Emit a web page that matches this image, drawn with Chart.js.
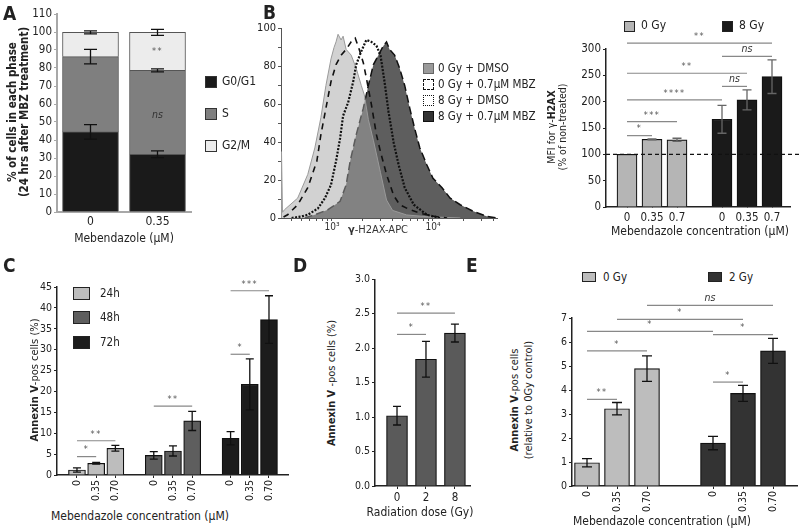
<!DOCTYPE html>
<html>
<head>
<meta charset="utf-8">
<script src="https://cdn.jsdelivr.net/npm/chart.js@4.4.1/dist/chart.umd.min.js"></script>
<style>
body { margin: 0; width: 800px; height: 531px; position: relative; overflow: hidden; background: #fff;
       font-family: 'DejaVu Sans Condensed', 'Liberation Sans Narrow', 'Open Sans', sans-serif; color: #222; }
canvas { position: absolute; }
.lbl { position: absolute; white-space: nowrap; line-height: 1.1; }
.c { transform: translate(-50%, -50%); text-align: center; }
.l { transform: translate(0, -50%); }
.r { transform: translate(-50%, -50%) rotate(-90deg); text-align: center; }
.sw { position: absolute; box-sizing: border-box; }
.letter { position: absolute; font-weight: bold; font-size: 19px; line-height: 19px; }
</style>
</head>
<body>
<canvas id="chA"></canvas>
<canvas id="chHist"></canvas>
<canvas id="chB"></canvas>
<canvas id="chC"></canvas>
<canvas id="chD"></canvas>
<canvas id="chE"></canvas>
<script>
// ---------- data ----------
// A: cell cycle phases, 24 h after MBZ
const doseA = ['0', '0.35'];
const phases = ['G0/G1', 'S', 'G2/M'];
const g0g1 = [44.5, 32.1];
const sPhase = [41.8, 46.6];
const g2m = [13.5, 21.1];
const g0g1Err = [4, 1.9];
const sErr = [4, 0.8];
const g2mErr = [0.8, 1.7];

// B (left): flow histograms, [log10 intensity, % of max]
const histNames = ['0 Gy +  DMSO', '0 Gy + 0.7\u00b5M MBZ', '8 Gy + DMSO', '8 Gy + 0.7\u00b5M MBZ'];
const dmso0 = [[2.495,0],[2.50,35],[2.51,3],[2.53,4.4],[2.66,10.5],[2.76,23],[2.83,37],[2.89,53],[2.94,70],[2.99,84],[3.02,90],[3.04,93],[3.06,97],[3.09,94],[3.11,96],[3.14,89],[3.19,86],[3.24,79],[3.29,70],[3.32,65],[3.36,52],[3.41,41],[3.48,24],[3.54,9.5],[3.60,4],[3.74,1.6],[3.94,0.7],[4.27,0]];
const mbz0 = [[2.52,0.5],[2.56,1.7],[2.66,7],[2.76,16],[2.85,30],[2.89,44],[2.94,58],[2.99,72],[3.04,81],[3.09,86],[3.14,89],[3.19,93],[3.23,95],[3.27,89],[3.31,82],[3.34,74],[3.39,60],[3.44,44],[3.48,35],[3.54,23],[3.61,12],[3.67,7],[3.77,4.4],[3.87,2.6],[4.00,0.9],[4.14,0]];
const dmso8 = [[2.60,0],[2.70,0.8],[2.76,1.7],[2.86,5],[2.93,10.5],[2.99,17.5],[3.04,30],[3.08,42],[3.11,54],[3.16,61],[3.21,72],[3.24,81],[3.29,88],[3.34,94],[3.39,93],[3.44,91],[3.48,86],[3.52,72],[3.56,56],[3.61,40],[3.66,28],[3.72,16],[3.81,7],[3.94,1.7],[4.07,0]];
const mbz8 = [[2.73,0],[2.83,1.7],[2.96,4.4],[3.08,8.8],[3.14,17.5],[3.18,30],[3.24,44],[3.31,58],[3.36,70],[3.41,81],[3.46,86],[3.49,89],[3.51,91],[3.54,93],[3.57,89],[3.62,86],[3.67,79],[3.72,70],[3.77,58],[3.82,47],[3.87,37],[3.94,28],[4.00,21],[4.09,16],[4.17,10.5],[4.27,7],[4.40,3.5],[4.53,0.9],[4.63,0]];

// B (right): MFI for gamma-H2AX
const concB = ['0', '0.35', '0.7'];
const gyB = ['0 Gy', '8 Gy'];
const mfi0 = [100, 128.5, 127.5];
const mfi8 = [166.5, 203.5, 247.5];
const mfi0Err = [0, 1, 3];
const mfi8Err = [26.5, 19, 32];
// [group a, bar a, group b, bar b, height, label]
const sigB = [[0,0,0,1,135.5,'*'],[0,0,0,2,162,'***'],[0,0,1,0,203.5,'****'],[0,0,1,1,254,'**'],
              [1,0,1,1,229,'ns'],[1,0,1,2,286,'ns'],[0,0,1,2,311,'**']];

// C: annexin V by time
const concC = ['0', '0.35', '0.70'];
const hours = ['24h', '48h', '72h'];
const ann24 = [1.2, 2.8, 6.4];
const ann48 = [4.7, 5.75, 12.95];
const ann72 = [8.8, 21.7, 37.2];
const ann24Err = [0.5, 0.2, 0.7];
const ann48Err = [0.9, 1.2, 2.3];
const ann72Err = [1.6, 6.1, 5.7];
const sigC = [[0,0,0,1,4.4,'*'],[0,0,0,2,8.2,'**'],[1,0,1,2,16.5,'**'],[2,0,2,1,28.9,'*'],[2,0,2,2,44.1,'***']];

// D: annexin V by radiation dose
const doseD = ['0', '2', '8'];
const annD = [1.02, 1.84, 2.22];
const annDErr = [0.135, 0.26, 0.13];
const sigD = [[0,0,0,1,2.2,'*'],[0,0,0,2,2.51,'**']];

// E: annexin V relative to 0 Gy control
const concE = ['0', '0.35', '0.70'];
const gyE = ['0 Gy', '2 Gy'];
const rel0 = [0.97, 3.22, 4.89];
const rel2 = [1.79, 3.86, 5.63];
const rel0Err = [0.17, 0.26, 0.53];
const rel2Err = [0.28, 0.33, 0.52];
const sigE = [[0,0,0,1,3.61,'**'],[0,0,0,2,5.63,'*'],[1,0,1,1,4.33,'*'],[0,0,1,0,6.44,'*'],
              [1,0,1,2,6.31,'*'],[0,1,1,1,6.94,'*'],[0,2,1,2,7.53,'ns']];

// ---------- helpers ----------
const FONT = "'DejaVu Sans Condensed', 'Liberation Sans Narrow', 'Open Sans', sans-serif";
Chart.defaults.font.family = FONT;
Chart.defaults.color = '#222';
Chart.defaults.animation = false;

// put canvas so that the chart area sits on area (page px); m = [left, top, right, bottom] room
function place(id, a, m) {
    const c = document.getElementById(id);
    c.style.left = (a.l - m[0]) + 'px';
    c.style.top = (a.t - m[1]) + 'px';
    c.width = a.r - a.l + m[0] + m[2];
    c.height = a.b - a.t + m[1] + m[3];
    return c;
}

function label(html, x, y, cls, css) {
    const d = document.createElement('div');
    d.className = 'lbl ' + cls;
    d.innerHTML = html;
    d.style.left = x + 'px';
    d.style.top = y + 'px';
    Object.assign(d.style, css || {});
    document.body.appendChild(d);
}

function swatch(x, y, w, h, css) {
    const d = document.createElement('div');
    d.className = 'sw';
    d.style.left = x + 'px';
    d.style.top = (y - h / 2) + 'px';
    d.style.width = w + 'px';
    d.style.height = h + 'px';
    Object.assign(d.style, css);
    document.body.appendChild(d);
}

// slot positions of bars: group g, bar i
function slots(nGroups, perGroup, step) {
    const out = [];
    for (let g = 0; g < nGroups; g++) {
        out.push([]);
        for (let i = 0; i < perGroup; i++) out[g].push(g * step + i);
    }
    return out;
}

function toSig(list, pos) {
    return list.map(s => ({ a: pos[s[0]][s[1]], b: pos[s[2]][s[3]], y: s[4], text: s[5] }));
}

const extras = {
    id: 'extras',
    afterDatasetsDraw(chart, args, opts) {
        const ctx = chart.ctx, xs = chart.scales.x, ys = chart.scales.y;
        ctx.save();
        if (opts.refLine !== undefined) {
            const y = ys.getPixelForValue(opts.refLine);
            ctx.setLineDash([4, 3]);
            ctx.strokeStyle = '#111';
            ctx.lineWidth = 1.3;
            ctx.beginPath();
            ctx.moveTo(chart.chartArea.left, y);
            ctx.lineTo(chart.width, y);
            ctx.stroke();
            ctx.setLineDash([]);
        }
        chart.data.datasets.forEach((ds, i) => {
            if (!ds.err) return;
            chart.getDatasetMeta(i).data.forEach((el, j) => {
                const e = ds.err[j];
                if (!e) return;
                const top = ys.getValueForPixel(el.y);
                const y1 = ys.getPixelForValue(top + e), y2 = ys.getPixelForValue(top - e);
                const w = opts.cap / 2;
                ctx.strokeStyle = opts.errColor || '#111';
                ctx.lineWidth = 1.3;
                ctx.beginPath();
                ctx.moveTo(el.x, y1); ctx.lineTo(el.x, y2);
                ctx.moveTo(el.x - w, y1); ctx.lineTo(el.x + w, y1);
                ctx.moveTo(el.x - w, y2); ctx.lineTo(el.x + w, y2);
                ctx.stroke();
            });
        });
        (opts.sig || []).forEach(s => {
            const y = ys.getPixelForValue(s.y);
            const x1 = xs.getPixelForValue(s.a), x2 = xs.getPixelForValue(s.b);
            if (s.a !== s.b) {
                ctx.strokeStyle = '#888';
                ctx.lineWidth = 1.2;
                ctx.beginPath();
                ctx.moveTo(x1, y); ctx.lineTo(x2, y);
                ctx.stroke();
            }
            const italic = s.text === 'ns';
            ctx.fillStyle = italic ? '#333' : '#555';
            ctx.font = (italic ? 'italic 10.5px ' : '9px ') + FONT;
            ctx.textAlign = 'center';
            ctx.textBaseline = s.a === s.b ? 'middle' : 'bottom';
            ctx.letterSpacing = italic ? '0px' : '1.5px';
            ctx.fillText(s.text, (x1 + x2) / 2, s.a === s.b ? y : y - 2);
        });
        ctx.restore();
    }
};

function yScale(min, max, step, font, color, width, fmt) {
    return {
        min: min, max: max,
        ticks: { stepSize: step, font: { size: font }, padding: 2, color: '#222', callback: fmt || (v => v) },
        grid: { drawOnChartArea: false, tickLength: 3, color: color, lineWidth: 1 },
        border: { color: color, width: width }
    };
}

function barScaleX(pos, labels, min, max, rotate, tick) {
    const flat = pos.flat();
    return {
        type: 'linear', min: min, max: max, offset: false,
        afterBuildTicks: s => { s.ticks = flat.map(v => ({ value: v })); },
        ticks: { autoSkip: false, font: { size: 10.5 }, color: '#222', padding: 2,
                 maxRotation: rotate, minRotation: rotate, callback: (v, i) => labels[i] },
        grid: { offset: false, drawOnChartArea: false, tickLength: tick, color: '#222' },
        border: { color: '#222', width: 1.5 }
    };
}

function opts(m, x, y, ext) {
    x.afterFit = s => { s.height = m[3]; };
    y.afterFit = s => { s.width = m[0]; };
    return {
        responsive: false, animation: false,
        layout: { padding: { left: 0, top: m[1], right: m[2], bottom: 0 } },
        datasets: { bar: { grouped: false } },
        plugins: { legend: { display: false }, tooltip: { enabled: false }, extras: ext },
        scales: { x: x, y: y }
    };
}

function pts(pos, vals) {
    return vals.map((v, i) => ({ x: pos[i], y: v }));
}

// ---------- A ----------
(function () {
    const m = [40, 10, 10, 22];
    const c = place('chA', { l: 57, t: 14, r: 191, b: 212 }, m);
    const colors = ['#1a1a1a', '#7f7f7f', '#ececec'];
    const vals = [g0g1, sPhase, g2m], errs = [g0g1Err, sErr, g2mErr];
    const x = {
        stacked: true, grid: { display: false, drawTicks: false, tickLength: 0 },
        ticks: { font: { size: 12 }, color: '#222', padding: 3 },
        border: { color: '#a8a8a8', width: 2 }
    };
    const y = yScale(0, 110, 10, 11.5, '#a8a8a8', 2);
    y.stacked = true;
    new Chart(c, {
        type: 'bar',
        data: {
            labels: doseA,
            datasets: phases.map((p, k) => ({
                label: p, data: vals[k], err: errs[k], backgroundColor: colors[k],
                borderColor: '#555', borderWidth: 1, barThickness: 56
            }))
        },
        options: opts(m, x, y, { cap: 13, sig: [{ a: 1, b: 1, y: 89, text: '**' }, { a: 1, b: 1, y: 54, text: 'ns' }] }),
        plugins: [extras]
    });
    phases.forEach((p, k) => {
        const yy = [82, 114, 146][k];
        swatch(205, yy, 12, 12, { background: colors[k], border: '1px solid #333' });
        label(p, 222, yy, 'l', { fontSize: '12px' });
    });
    label('% of cells in each phase<br>(24 hrs after MBZ treatment)', 18, 112, 'r',
          { fontWeight: 'bold', fontSize: '11.5px', lineHeight: '12px' });
    label('Mebendazole (\u00b5M)', 124, 239, 'c', { fontSize: '12px' });
})();

// ---------- B histogram ----------
(function () {
    const m = [30, 8, 5, 16];
    const c = place('chHist', { l: 281, t: 28, r: 497, b: 218 }, m);
    const x = {
        type: 'linear', min: 2.495, max: 4.634,
        afterBuildTicks: s => {
            const t = [];
            for (let d = 2; d <= 4; d++) {
                for (let k = 1; k <= 9; k++) {
                    const v = d + Math.log10(k);
                    if (v >= s.min && v <= s.max) t.push({ value: v });
                }
            }
            s.ticks = t;
        },
        ticks: { autoSkip: false, maxRotation: 0, font: { size: 10 }, color: '#333', padding: 0,
                 callback: v => Math.abs(v - 3) < 1e-6 ? '10\u00b3' : (Math.abs(v - 4) < 1e-6 ? '10\u2074' : '') },
        grid: { drawOnChartArea: false, tickLength: 3, color: '#555' },
        border: { color: '#555', width: 1 }
    };
    const y = yScale(0, 100, 10, 11, '#555', 1, v => v % 20 === 0 ? v : '');
    const line = (d, name, o) => Object.assign({
        label: name, data: d.map(p => ({ x: p[0], y: p[1] })), pointRadius: 0, tension: 0
    }, o);
    new Chart(c, {
        type: 'line',
        data: {
            datasets: [
                line(mbz0, histNames[1], { order: 0, borderColor: '#111', borderWidth: 1.6, borderDash: [6, 5], fill: false }),
                line(dmso8, histNames[2], { order: 0, borderColor: '#111', borderWidth: 2.2, borderDash: [2, 1.5], fill: false }),
                line(dmso0, histNames[0], { order: 1, borderColor: '#9a9a9a', borderWidth: 1, fill: 'origin',
                                            backgroundColor: 'rgba(165,165,165,0.5)' }),
                line(mbz8, histNames[3], { order: 2, borderColor: '#111', borderWidth: 1.5, borderDash: [8, 4], fill: 'origin',
                                           backgroundColor: '#5e5e5e' })
            ]
        },
        options: opts(m, x, y, {}),
        plugins: [extras]
    });
    const sw = [
        { background: '#9a9a9a', border: '1px solid #666' },
        { background: '#fff', border: '1.5px dashed #111' },
        { background: '#fff', border: '1.5px dotted #111' },
        { background: '#333', border: '1px solid #111' }
    ];
    histNames.forEach((n, k) => {
        const yy = 68 + k * 16;
        swatch(423, yy, 11, 11, sw[k]);
        label(n, 438, yy, 'l', { fontSize: '11.5px' });
    });
    label('<b>\u03b3</b>-H2AX-APC', 378, 230, 'c', { fontSize: '11px', color: '#333' });
})();

// ---------- B bars ----------
(function () {
    const m = [30, 18, 10, 20];
    const c = place('chB', { l: 606, t: 49, r: 790, b: 207 }, m);
    const pos = slots(2, 3, 3.8);
    const x = barScaleX(pos, concB.concat(concB), -0.84, 6.52, 0, 0);
    x.ticks.font.size = 11.5;
    x.ticks.padding = 4;
    const y = yScale(0, 300, 50, 11.5, '#222', 1.5);
    const colors = ['#b5b5b5', '#1a1a1a'];
    new Chart(c, {
        type: 'bar',
        data: {
            datasets: [
                { label: gyB[0], data: pts(pos[0], mfi0), err: mfi0Err, backgroundColor: colors[0],
                  borderColor: '#111', borderWidth: 1.2, barThickness: 20 },
                { label: gyB[1], data: pts(pos[1], mfi8), err: mfi8Err, backgroundColor: colors[1],
                  borderColor: '#111', borderWidth: 1.2, barThickness: 20 }
            ]
        },
        options: opts(m, x, y, { cap: 9, errColor: '#666', refLine: 100, sig: toSig(sigB, pos) }),
        plugins: [extras]
    });
    gyB.forEach((g, k) => {
        const xx = [624, 722][k];
        swatch(xx, 26, 11, 11, { background: colors[k], border: '1px solid #222' });
        label(g, xx + 17, 26, 'l', { fontSize: '12px' });
    });
    label('MFI for \u03b3-<b>H2AX</b><br>(% of non-treated)', 557, 127, 'r', { fontSize: '10.5px', lineHeight: '11px' });
    label('Mebendazole concentration (\u00b5M)', 700, 232, 'c', { fontSize: '12px' });
})();

// ---------- C ----------
(function () {
    const m = [30, 12, 5, 32];
    const c = place('chC', { l: 57, t: 287, r: 288, b: 475 }, m);
    const pos = slots(3, 3, 4);
    const x = barScaleX(pos, concC.concat(concC, concC), -1.04, 10.99, 90, 3);
    const y = yScale(0, 45, 5, 10.5, '#222', 1.5);
    const colors = ['#bdbdbd', '#5e5e5e', '#1c1c1c'];
    const vals = [ann24, ann48, ann72], errs = [ann24Err, ann48Err, ann72Err];
    new Chart(c, {
        type: 'bar',
        data: {
            datasets: hours.map((h, k) => ({
                label: h, data: pts(pos[k], vals[k]), err: errs[k], backgroundColor: colors[k],
                borderColor: '#111', borderWidth: 1.2, barThickness: 17
            }))
        },
        options: opts(m, x, y, { cap: 8, sig: toSig(sigC, pos) }),
        plugins: [extras]
    });
    hours.forEach((h, k) => {
        const yy = [293, 317, 342][k];
        swatch(73, yy, 17, 13, { background: colors[k], border: '1.5px solid #222' });
        label(h, 100, yy, 'l', { fontSize: '11.5px' });
    });
    label('<b>Annexin V</b>-pos cells (%)', 35, 380, 'r', { fontSize: '11px' });
    label('Mebendazole concentration (\u00b5M)', 140, 517, 'c', { fontSize: '12px' });
})();

// ---------- D ----------
(function () {
    const m = [30, 8, 5, 20];
    const c = place('chD', { l: 375, t: 279, r: 470, b: 486 }, m);
    const pos = slots(1, 3, 3);
    const x = barScaleX(pos, doseD, -0.76, 2.52, 0, 3);
    x.ticks.font.size = 11.5;
    const y = yScale(0, 3, 0.5, 10.5, '#222', 1.5, v => v.toFixed(1));
    new Chart(c, {
        type: 'bar',
        data: {
            datasets: [{ label: 'Annexin V', data: pts(pos[0], annD), err: annDErr, backgroundColor: '#5a5a5a',
                         borderColor: '#111', borderWidth: 1.2, barThickness: 21 }]
        },
        options: opts(m, x, y, { cap: 8, sig: toSig(sigD, pos) }),
        plugins: [extras]
    });
    label('<b>Annexin V</b> -pos cells (%)', 332, 383, 'r', { fontSize: '11px' });
    label('Radiation dose (Gy)', 420, 513, 'c', { fontSize: '12px' });
})();

// ---------- E ----------
(function () {
    const m = [30, 26, 3, 32];
    const c = place('chE', { l: 572, t: 318, r: 797, b: 486 }, m);
    const pos = slots(2, 3, 4.2);
    const x = barScaleX(pos, concE.concat(concE), -0.5, 7.0, 90, 3);
    const y = yScale(0, 7, 1, 10.5, '#222', 1.5);
    const colors = ['#bdbdbd', '#333333'];
    new Chart(c, {
        type: 'bar',
        data: {
            datasets: [
                { label: gyE[0], data: pts(pos[0], rel0), err: rel0Err, backgroundColor: colors[0],
                  borderColor: '#111', borderWidth: 1.2, barThickness: 25 },
                { label: gyE[1], data: pts(pos[1], rel2), err: rel2Err, backgroundColor: colors[1],
                  borderColor: '#111', borderWidth: 1.2, barThickness: 25 }
            ]
        },
        options: opts(m, x, y, { cap: 10, sig: toSig(sigE, pos) }),
        plugins: [extras]
    });
    gyE.forEach((g, k) => {
        const xx = [582, 708][k];
        swatch(xx, 277, 14, 10, { background: colors[k], border: '1px solid #222' });
        label(g, xx + 21, 277, 'l', { fontSize: '11.5px' });
    });
    label('<b>Annexin V</b>-pos cells<br>(relative to 0Gy control)', 522, 400, 'r', { fontSize: '11px', lineHeight: '14px' });
    label('Mebendazole concentration (\u00b5M)', 662, 522, 'c', { fontSize: '12px' });
})();

// panel letters
[['A', 3, 4], ['B', 263, 3], ['C', 3, 256], ['D', 293, 256], ['E', 466, 256]].forEach(p => {
    const d = document.createElement('div');
    d.className = 'letter';
    d.textContent = p[0];
    d.style.left = p[1] + 'px';
    d.style.top = p[2] + 'px';
    document.body.appendChild(d);
});
</script>
</body>
</html>
